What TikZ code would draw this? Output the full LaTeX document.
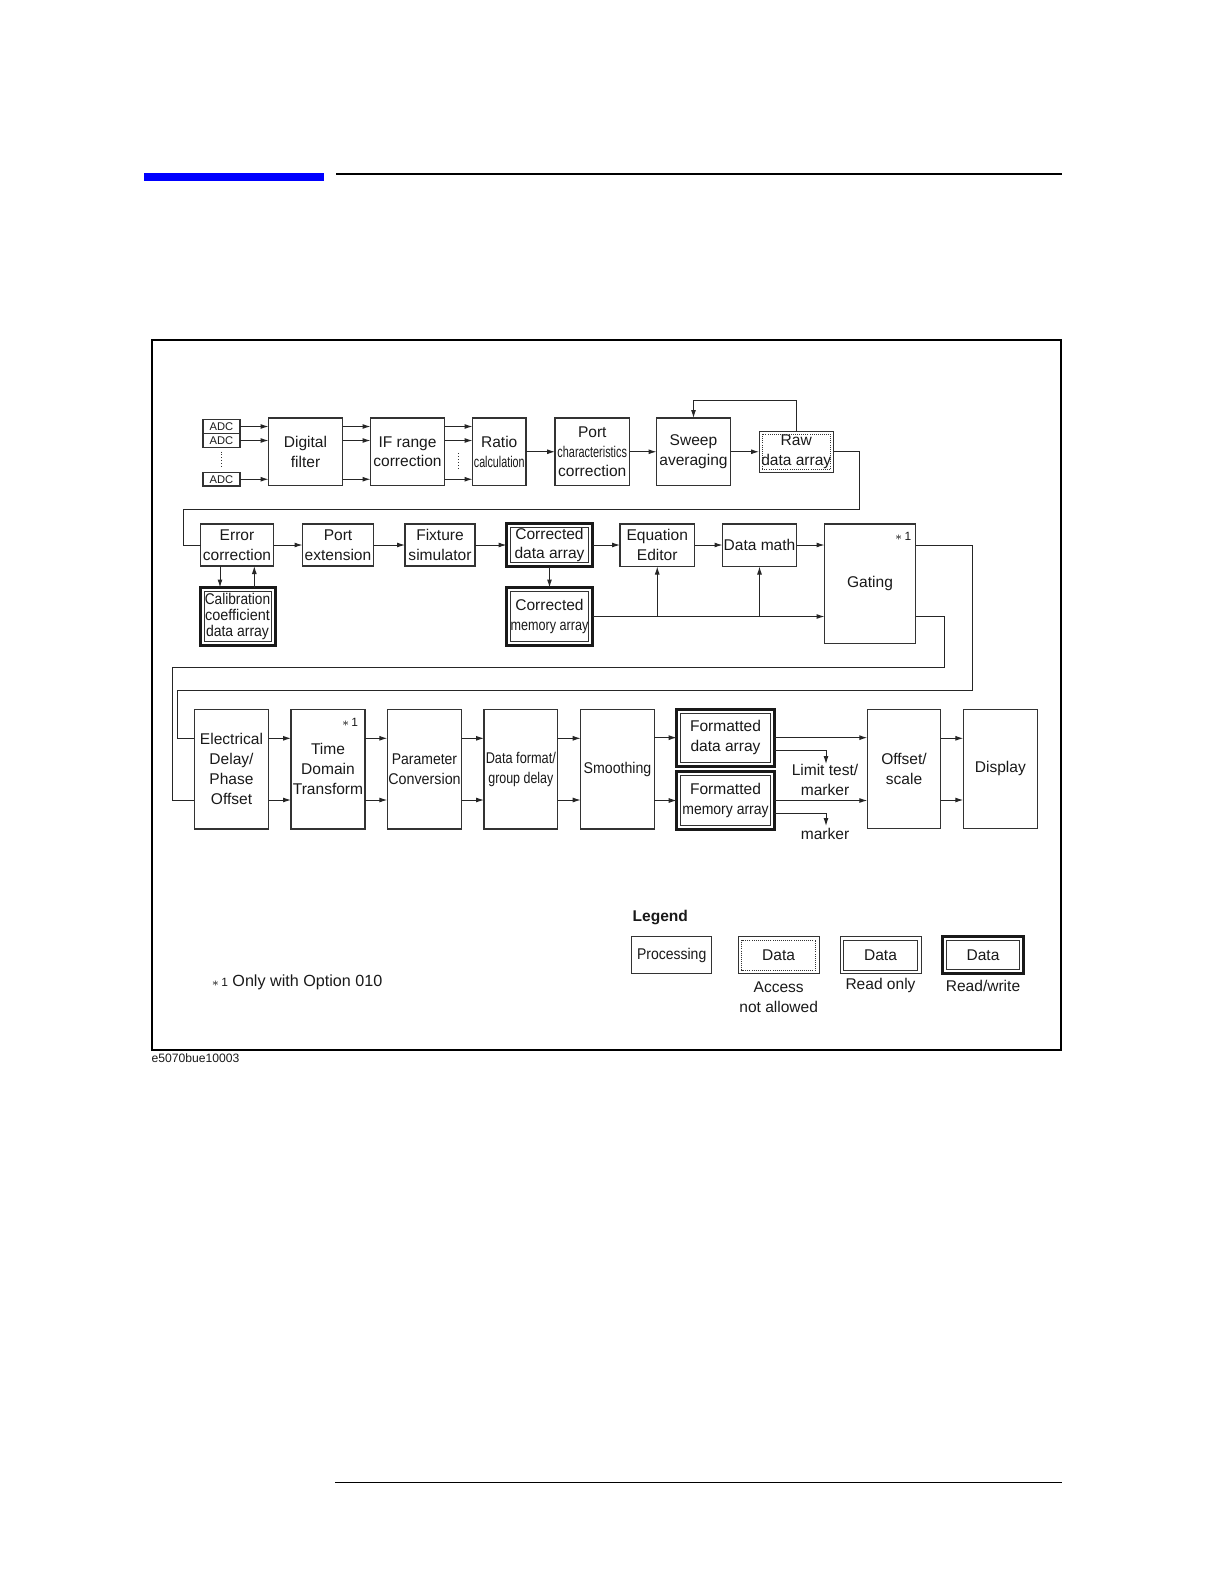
\documentclass[tikz,border=0pt]{standalone}
\usepackage{fontspec}
\setmainfont{Liberation Sans}
\usepackage{graphicx}
\usetikzlibrary{arrows.meta}
\newcommand\cnd[2][0.9]{\scalebox{#1}[1]{#2}}
\newcommand\fnA{\fontsize{7.8}{10}\selectfont}
\newcommand\fnC{\fontsize{7.8}{8}\selectfont}
\newcommand\fnS{\fontsize{5.6}{6}\selectfont}
\newcommand\bx[7]{%
  \pgfmathsetmacro\bxw{(#5-#3)/2}%
  \pgfmathsetmacro\bxh{(#6-#4)/2}%
  \node[#1, minimum width=\bxw bp, minimum height=\bxh bp] (#2) at ({(#3+#5)/2},{(#4+#6)/2}) {#7};}
\newcommand\inbox[3]{\draw[#1] ([shift={(#3,#3)}]#2.north west) rectangle ([shift={(-#3,-#3)}]#2.south east);}
\begin{document}
\begin{tikzpicture}[x=0.5bp,y=-0.5bp,
  every node/.style={inner sep=0pt, outer sep=0pt, text=black!90, font=\fnA, align=center},
  proc/.style={draw=black!80, line width=0.6bp},
  dro/.style={draw=black!80, line width=0.5bp},
  drw/.style={draw=black!90, line width=1.5bp},
  dna/.style={draw=black!80, line width=0.5bp},
  conn/.style={draw=black!85, line width=0.5bp},
  arr/.style={conn, -{Latex[length=4bp,width=2.5bp]}},
  innerthin/.style={draw=black!80, line width=0.45bp},
  innerdot/.style={draw=black!80, line width=0.45bp, dash pattern=on 0.45bp off 0.6bp},
]
\useasboundingbox (0,0) rectangle (1224,1584);

% page header / footer
\fill[blue] (144,172.7) rectangle (324,180.7);
\draw[line width=1bp] (336,174) -- (1061.7,174);
\draw[line width=0.8bp] (335,1482.6) -- (1062,1482.6);
% frame
\draw[line width=1bp] (152,340) rectangle (1060.5,1050);
\node[anchor=west, font=\fontsize{6.1}{7}\selectfont] (figid) at (151.5,1058.5) {e5070bue10003};

% ---------- row 1 ----------
\bx{proc}{adc1}{203}{419.5}{240}{433.5}{\fnS ADC}
\bx{proc}{adc2}{203}{433.5}{240}{447.5}{\fnS ADC}
\bx{proc}{adc3}{203}{472.5}{240}{486}{\fnS ADC}
\bx{proc}{dfil}{268.5}{418}{342.5}{485.5}{Digital\\filter}
\bx{proc}{ifr}{370.5}{418}{444.5}{485.5}{IF range\\correction}
\bx{proc}{ratio}{472.5}{418}{526}{485.5}{Ratio\\\cnd[0.69]{calculation}}
\bx{proc}{portc}{555}{418}{629.5}{485.5}{Port\\\cnd[0.7]{characteristics}\\correction}
\bx{proc}{sweep}{656.5}{418}{730.5}{485.5}{Sweep\\averaging}
\bx{dna}{raw}{759}{431}{833.5}{472.5}{Raw\\data array}
\inbox{innerdot}{raw}{3}

\draw[densely dotted, black!80, line width=0.5bp] ([yshift=-2bp]adc2.south) -- ([yshift=2bp]adc3.north);
\coordinate (ifdot) at (458.4,453);
\draw[densely dotted, black!80, line width=0.5bp] (ifdot) -- ++(0,15);

\foreach \a in {adc1,adc2,adc3}{
  \draw[arr] (\a.east) -- (\a.east -| dfil.west);
  \draw[arr] (dfil.east |- \a.east) -- (ifr.west |- \a.east);
  \draw[arr] (ifr.east |- \a.east) -- (ratio.west |- \a.east);
}
\draw[arr] (ratio.east |- raw.east) -- (portc.west |- raw.east);
\draw[arr] (portc.east |- raw.east) -- (sweep.west |- raw.east);
\draw[arr] (sweep.east |- raw.east) -- (raw.west);
\coordinate (fbtop) at (745,400.7);
\draw[arr] (raw.north) |- (fbtop) -| (sweep.north);

% ---------- row 2 ----------
\bx{proc}{err}{200.5}{524}{273.5}{566}{Error\\correction}
\bx{proc}{pext}{302.5}{524}{373.5}{566}{Port\\extension}
\bx{proc}{fix}{405}{524}{475}{566}{Fixture\\simulator}
\bx{drw}{cda}{506.5}{523.5}{592.5}{566.5}{Corrected\\data array}
\inbox{innerthin}{cda}{4}
\bx{proc}{eq}{620}{524}{694.5}{566.5}{Equation\\Editor}
\bx{proc}{dm}{722.5}{524}{796.5}{566.5}{Data math}
\bx{proc}{gat}{824.5}{524}{915.5}{643.5}{Gating}
\node (gatstar) at (903,536.5) {\fontsize{6}{6}\selectfont$\ast$\,1};
\bx{drw, font=\fnC}{cal}{200}{587.5}{275}{645}{\cnd[0.88]{Calibration}\\\cnd[0.93]{coefficient}\\\cnd[0.9]{data array}}
\inbox{innerthin}{cal}{4}
\bx{drw}{cma}{506.5}{587.5}{592.5}{645.5}{Corrected\\\cnd[0.81]{memory array}}
\inbox{innerthin}{cma}{4}

\coordinate (r1) at (859.3,509.3);
\coordinate (r2) at (183.3,509.3);
\draw[conn] (raw.east) -| (r1) -- (r2) |- (err.west);

\draw[arr] (err.east) -- (pext.west);
\draw[arr] (pext.east) -- (fix.west);
\draw[arr] (fix.east) -- (cda.west);
\draw[arr] (cda.east) -- (eq.west |- cda.east);
\draw[arr] (eq.east |- cda.east) -- (dm.west |- cda.east);
\draw[arr] (dm.east |- cda.east) -- (gat.west |- cda.east);

\coordinate (xa) at (220,0);
\coordinate (xb) at (254.3,0);
\draw[arr] (err.south -| xa) -- (cal.north -| xa);
\draw[arr] (cal.north -| xb) -- (err.south -| xb);
\draw[arr] (cda.south) -- (cma.north);

\draw[arr] (cma.east) -- (cma.east -| gat.west);
\draw[arr] (cma.east -| eq.south) -- (eq.south);
\draw[arr] (cma.east -| dm.south) -- (dm.south);

% ---------- row 3 ----------
\bx{proc}{elec}{194.3}{709.3}{268.7}{829}{Electrical\\Delay/\\Phase\\Offset}
\bx{proc}{tdt}{291}{709.3}{365}{829}{Time\\Domain\\Transform}
\node (tdtstar) at (350,722.7) {\fontsize{6}{6}\selectfont$\ast$\,1};
\bx{proc}{pconv}{387.3}{709.3}{461.7}{829}{\cnd[0.9]{Parameter}\\\cnd[0.92]{Conversion}}
\bx{proc}{dfmt}{484}{709.3}{557.7}{829}{\cnd[0.82]{Data format/}\\\cnd[0.8]{group delay}}
\bx{proc}{smooth}{580.7}{709.3}{654.3}{829}{\cnd[0.91]{Smoothing}}
\bx{drw}{fda}{676.7}{709.3}{774.3}{766}{Formatted\\data array}
\inbox{innerthin}{fda}{4}
\bx{drw}{fma}{676.7}{771.7}{774.3}{829.3}{Formatted\\\cnd[0.9]{memory array}}
\inbox{innerthin}{fma}{4}
\bx{proc}{offs}{867.3}{709.3}{940.7}{828.3}{Offset/\\scale}
\bx{proc}{disp}{963.3}{709.3}{1037.3}{828.3}{Display}

\coordinate (ya) at (0,738.3);
\coordinate (yb) at (0,800);
\coordinate (g1) at (972.3,690);
\coordinate (g1b) at (177.3,690);
\draw[conn] (gat.east |- cda.east) -| (g1) -- (g1b) |- (elec.west |- ya);
\coordinate (g2) at (944,667.3);
\coordinate (g2b) at (172.7,667.3);
\draw[conn] (gat.east |- cma.east) -| (g2) -- (g2b) |- (elec.west |- yb);

\foreach \y in {ya,yb}{
  \draw[arr] (elec.east |- \y) -- (tdt.west |- \y);
  \draw[arr] (tdt.east |- \y) -- (pconv.west |- \y);
  \draw[arr] (pconv.east |- \y) -- (dfmt.west |- \y);
  \draw[arr] (dfmt.east |- \y) -- (smooth.west |- \y);
  \draw[arr] (offs.east |- \y) -- (disp.west |- \y);
}
\draw[arr] (smooth.east |- fda.west) -- (fda.west);
\draw[arr] (smooth.east |- fma.west) -- (fma.west);
\draw[arr] (fda.east) -- (fda.east -| offs.west);
\draw[arr] (fma.east) -- (fma.east -| offs.west);

\coordinate (ly1) at (0,750);
\coordinate (lx1) at (826,764);
\draw[arr] (fda.east |- ly1) -| (lx1);
\coordinate (ly2) at (0,813.3);
\coordinate (lx2) at (826,826);
\draw[arr] (fma.east |- ly2) -| (lx2);
\node (limit) at (825,779.7) {Limit test/\\marker};
\node (marker) at (825,833.5) {marker};

% ---------- legend ----------
\node[anchor=west, font=\fnA\bfseries] (legend) at (632.7,917.3) {Legend};
\bx{proc}{lproc}{631.7}{936.7}{711.7}{973.3}{\cnd[0.9]{Processing}}
\bx{dna}{lna}{738.3}{936.7}{819}{973.3}{Data}
\inbox{innerdot}{lna}{3.3}
\bx{dro}{lro}{840}{936.7}{921}{973.3}{Data}
\inbox{innerthin}{lro}{3.3}
\bx{drw}{lrw}{942.7}{936.7}{1023.3}{973.3}{Data}
\inbox{innerthin}{lrw}{4}
\node (lnatxt) at (778.7,997) {Access\\not allowed};
\node (lrotxt) at (880.5,985.5) {Read only};
\node (lrwtxt) at (983,985.5) {Read/write};

\node[anchor=west, font=\fontsize{8.1}{10}\selectfont] (note) at (211.7,982) {{\fontsize{6}{6}\selectfont$\ast$\,1} Only with Option 010};
\end{tikzpicture}
\end{document}
